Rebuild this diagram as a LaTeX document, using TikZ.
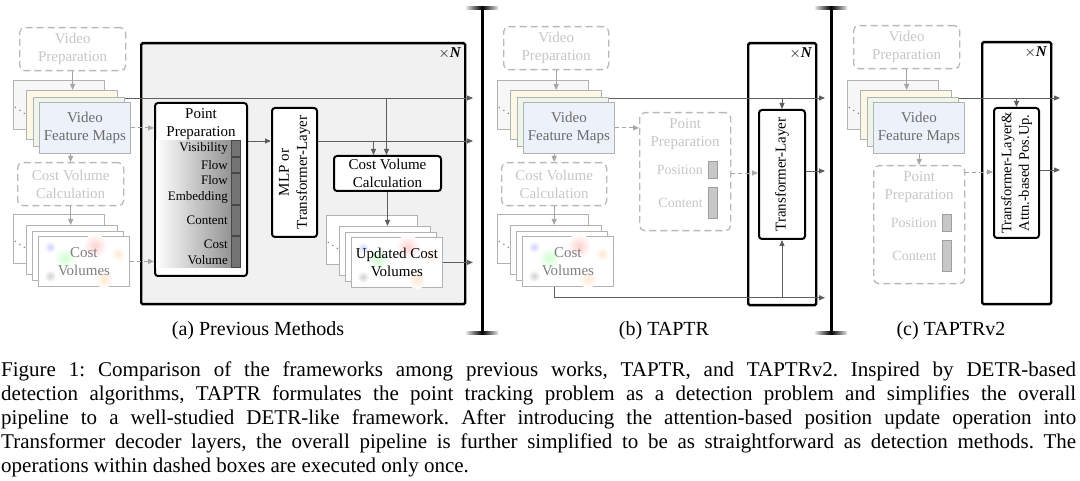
\documentclass[tikz,border=0pt]{standalone}
\usepackage{fontspec}
\setmainfont{Liberation Serif}
\usetikzlibrary{arrows.meta,positioning,calc}

\definecolor{oncegray}{HTML}{B9B9B9}
\definecolor{oncetext}{HTML}{C6C6C6}
\definecolor{wiregray}{HTML}{5E5E5E}
\definecolor{mapyellow}{HTML}{FCF7E6}
\definecolor{mapgreen}{HTML}{EEF5EA}
\definecolor{mapblue}{HTML}{EDF2FA}
\definecolor{panelgray}{HTML}{F1F1F1}

\newcommand{\blockfont}{\fontsize{15}{18}\selectfont}
\newcommand{\rowfont}{\fontsize{13}{16}\selectfont}
\newcommand{\slotfont}{\fontsize{14}{16}\selectfont}
\newcommand{\capfont}{\fontsize{20}{24}\selectfont}
\newcommand{\bodyfont}{\fontsize{21}{24}\selectfont}

% faint colour spots on a front cost-volume frame
\newcommand{\cvspots}[1]{%
  \foreach \dx/\dy/\rad/\spotc in {12/11/6/blue, 57/10/12/red, 27/22/11/green, 80/18/7/orange, 12/40/6/black, 66/43/9/orange}
    \shade[inner color=\spotc!18, outer color=white] ($(#1.north west)+(\dx,\dy)$) circle (\rad pt);
}

\begin{document}
\begin{tikzpicture}[x=1pt, y=-1pt,
    >={Triangle[length=6pt,width=5pt]},
    onceblock/.style={draw=oncegray, line width=1.3pt, dash pattern=on 7pt off 4pt, rounded corners=5pt, text=oncetext, align=center, font=\blockfont, inner sep=0pt, anchor=north west},
    layerblock/.style={draw=black, line width=2pt, rounded corners=3pt, fill=white, inner sep=0pt, anchor=north west},
    repeatbox/.style={draw=black, line width=2.4pt, rounded corners=1.5pt, inner sep=0pt, anchor=north west},
    mapframe/.style={draw=black!30, line width=0.8pt, minimum width=91pt, minimum height=49pt, inner sep=0pt, anchor=north west, fill=white},
    wire/.style={->, draw=wiregray, line width=0.9pt},
    oncewire/.style={->, draw=black!35, line width=0.9pt},
    oncedash/.style={oncewire, dash pattern=on 4pt off 3pt},
    repeatlabel/.style={font=\blockfont, anchor=north east, inner sep=0pt},
  ]
\useasboundingbox (0,0) rectangle (1080,481);

% separators between the three panels
\foreach \sx in {482,831} {
  \draw[line width=3pt] (\sx,8) -- (\sx,333);
  \foreach \sy in {8,333} {
    \shade[left color=black!10, right color=black] (\sx-16,\sy-1.6) rectangle (\sx,\sy+1.6);
    \shade[left color=black, right color=black!10] (\sx,\sy-1.6) rectangle (\sx+16,\sy+1.6);
  }
}

% repeated blocks
\node[repeatbox, fill=panelgray, minimum width=324pt, minimum height=261pt] (repA) at (140,42) {};
\node[repeatbox, fill=white, minimum width=68pt, minimum height=262pt] (repB) at (747,42) {};
\node[repeatbox, fill=white, minimum width=69pt, minimum height=262pt] (repC) at (981,41) {};
\foreach \s in {A,B,C}
  \node[repeatlabel] at ($(rep\s.north east)+(-5,5)$) {$\times$\textbf{\textit{N}}};

% video preparation (run once)
\node[onceblock, minimum width=106pt, minimum height=43pt] (vpA) at (19,27) {Video\\Preparation};
\node[onceblock, minimum width=105pt, minimum height=43pt] (vpB) at (503,26) {Video\\Preparation};
\node[onceblock, minimum width=106pt, minimum height=43pt] (vpC) at (853,25) {Video\\Preparation};

% video feature map stacks
\foreach \s/\x in {A/13, B/497, C/847} {
  \node[mapframe, fill=black!3] (vfm\s1) at (\x,80) {};
  \node[font=\rowfont, text=black!50, inner sep=0pt] at ($(vfm\s1.west)+(7,3)$) {$\ddots$};
  \node[mapframe, fill=mapyellow] (vfm\s2) at (\x+13,90) {};
  \node[mapframe, fill=mapgreen] (vfm\s3) at (\x+20,97) {};
  \node[mapframe, fill=mapblue, minimum height=51pt, text=black!58, font=\blockfont, align=center] (vfm\s4) at (\x+26,102) {Video\\Feature Maps};
}

% cost volume calculation (run once)
\node[onceblock, minimum width=106pt, minimum height=43pt] (cvprepA) at (17,162) {Cost Volume\\Calculation};
\node[onceblock, minimum width=105pt, minimum height=43pt] (cvprepB) at (501,162) {Cost Volume\\Calculation};

% cost volume stacks
\foreach \s/\x/\y in {cvA/13/214, cvB/497/214, updA/326/215} {
  \node[mapframe] (\s1) at (\x,\y) {};
  \node[font=\rowfont, text=black!50, inner sep=0pt] at ($(\s1.west)+(7,3)$) {$\ddots$};
  \node[mapframe] (\s2) at (\x+13,\y+11) {};
  \node[mapframe] (\s3) at (\x+19,\y+17) {};
  \node[mapframe, minimum height=50pt] (\s4) at (\x+25,\y+22) {};
  \cvspots{\s4}
}
\node[font=\blockfont, text=black!50, align=center] (cvAtxt) at (cvA4.center) {Cost\\Volumes};
\node[font=\blockfont, text=black!50, align=center] (cvBtxt) at (cvB4.center) {Cost\\Volumes};
\node[font=\blockfont, align=center] (updAtxt) at (updA4.center) {Updated Cost\\Volumes};

% (a) point preparation with its queries
\node[layerblock, minimum width=92pt, minimum height=173pt] (ppA) at (154,102) {};
\node[font=\blockfont, align=center, anchor=north, inner sep=0pt] (ppAtitle) at ($(ppA.north)+(0,6)$) {Point\\Preparation};
\foreach \nm/\ya/\yb/\txt in {vis/140/157/Visibility, flw/157/173/Flow, emb/173/205/{Flow\\Embedding}, cnt/205/236/Content, cst/236/268/{Cost\\Volume}} {
  \shade[left color=white, right color=black!42] (156,\ya+0.8) rectangle (231,\yb-0.8);
  \draw[fill=black!55, draw=black!72, line width=0.6pt] (231,\ya+0.4) rectangle (240,\yb-0.4);
  \node[font=\rowfont, align=right, anchor=east, inner sep=0pt] (\nm A) at (228,{(\ya+\yb)/2}) {\txt};
}

\node[layerblock, minimum width=45pt, minimum height=129pt] (mlpA) at (271,107) {};
\node[font=\blockfont, align=center, rotate=90, inner sep=0pt] at (mlpA.center) {MLP or\\Transformer-Layer};
\node[layerblock, minimum width=107pt, minimum height=35pt, font=\blockfont, align=center] (cvcA) at (333,155) {Cost Volume\\Calculation};

% (b) and (c) point preparation (run once)
\node[onceblock, minimum width=91pt, minimum height=118pt] (ppB) at (639,112) {};
\node[onceblock, minimum width=91pt, minimum height=118pt] (ppC) at (873,165) {};
\foreach \s in {B,C} {
  \node[font=\blockfont, text=oncetext, align=center, anchor=north, inner sep=0pt] (pp\s title) at ($(pp\s.north)+(0,6)$) {Point\\Preparation};
  \draw[fill=black!22, draw=black!38, line width=0.6pt] ($(pp\s.north west)+(69,49)$) rectangle ($(pp\s.north west)+(78,66)$);
  \draw[fill=black!22, draw=black!38, line width=0.6pt] ($(pp\s.north west)+(69,75)$) rectangle ($(pp\s.north west)+(78,106)$);
  \node[font=\slotfont, text=oncetext, anchor=east, inner sep=0pt] (pos\s) at ($(pp\s.north west)+(64,58)$) {Position};
  \node[font=\slotfont, text=oncetext, anchor=east, inner sep=0pt] (cnt\s) at ($(pp\s.north west)+(64,91)$) {Content};
}

% decoder layers
\node[layerblock, minimum width=46pt, minimum height=129pt] (tlB) at (758,109) {};
\node[font=\blockfont, rotate=90, inner sep=0pt] at (tlB.center) {Transformer-Layer};
\node[layerblock, minimum width=45pt, minimum height=130pt] (tlC) at (993,107) {};
\node[font=\fontsize{14.5}{17.5}\selectfont, align=center, rotate=90, inner sep=0pt] at (tlC.center) {Transformer-Layer\&\\Attn.-based Pos.Up.};

% connectors (a)
\coordinate (exitA) at (473,0);
\draw[oncewire] (vpA.south) -- (vpA.south |- vfmA2.north);
\draw[oncewire] (cvprepA.north |- vfmA4.south) -- (cvprepA.north);
\draw[oncewire] (cvprepA.south) -- (cvprepA.south |- cvA2.north);
\draw[oncedash] (vfmA4.east) -- (vfmA4.east -| ppA.west);
\draw[oncedash] (cvA4.east) -- (cvA4.east -| ppA.west);
\coordinate (vlineA) at ($(vfmA3.north east)+(0,1)$);
\draw[wire] (vlineA) -- (vlineA -| exitA);
\coordinate (ppoutA) at ($(ppA.north east)+(0,39)$);
\draw[wire] (ppoutA) -- (ppoutA -| mlpA.west);
\coordinate (mlpoutA) at ($(mlpA.north east)+(0,34)$);
\draw[wire] (mlpoutA) -- (mlpoutA -| exitA);
\coordinate (tapA1) at ($(cvcA.north)+(-14,0)$);
\coordinate (tapA2) at ($(cvcA.north)+(-1,0)$);
\draw[wire] (tapA1 |- mlpoutA) -- (tapA1);
\draw[wire] (tapA2 |- vlineA) -- (tapA2);
\draw[wire] (cvcA.south) -- (cvcA.south |- updA2.north);
\draw[wire] (updA4.east) -- (updA4.east -| exitA);

% connectors (b)
\coordinate (exitB) at (825,0);
\draw[oncewire] (vpB.south) -- (vpB.south |- vfmB2.north);
\draw[oncewire] (cvprepB.north |- vfmB4.south) -- (cvprepB.north);
\draw[oncewire] (cvprepB.south) -- (cvprepB.south |- cvB2.north);
\draw[oncedash] (vfmB4.east) -- (vfmB4.east -| ppB.west);
\coordinate (vlineB) at ($(vfmB3.north east)+(0,1)$);
\draw[wire] (vlineB) -- (vlineB -| exitB);
\draw[wire] (tlB.north |- vlineB) -- (tlB.north);
\coordinate (ppoutB) at ($(ppB.north east)+(0,61)$);
\draw[oncedash] (ppoutB) -- (ppoutB -| tlB.west);
\coordinate (tloutB) at ($(tlB.north east)+(0,62)$);
\draw[wire] (tloutB) -- (tloutB -| exitB);
\coordinate (cvlineB) at ($(cvB4.south)+(0,11)$);
\draw[wire] (cvprepB.south |- cvB4.south) |- (exitB |- cvlineB);
\draw[wire] (tlB.south |- cvlineB) -- (tlB.south);

% connectors (c)
\coordinate (exitC) at (1060,0);
\draw[oncewire] (vpC.south) -- (vpC.south |- vfmC2.north);
\draw[oncewire] (ppC.north |- vfmC4.south) -- (ppC.north);
\coordinate (vlineC) at ($(vfmC3.north east)+(0,1)$);
\draw[wire] (vlineC) -- (vlineC -| exitC);
\draw[wire] (tlC.north |- vlineC) -- (tlC.north);
\coordinate (ppoutC) at ($(ppC.north east)+(0,7)$);
\draw[oncedash] (ppoutC) -- (ppoutC -| tlC.west);
\coordinate (tloutC) at ($(tlC.north east)+(0,63)$);
\draw[wire] (tloutC) -- (tloutC -| exitC);

% panel captions
\node[font=\capfont, anchor=base] (capA) at (258,336) {(a) Previous Methods};
\node[font=\capfont, anchor=base] (capB) at (664,336) {(b) TAPTR};
\node[font=\capfont, anchor=base] (capC) at (951,336) {(c) TAPTRv2};

% figure caption
\node[font=\bodyfont, text width=1075pt, align=justify, anchor=north west, inner sep=0pt] (figcap) at (1,362) {\frenchspacing Figure 1: Comparison of the frameworks among previous works, TAPTR, and TAPTRv2. Inspired by DETR-based\linebreak detection algorithms, TAPTR formulates the point tracking problem as a detection problem and simplifies the overall\linebreak pipeline to a well-studied DETR-like framework. After introducing the attention-based position update operation into\linebreak Transformer decoder layers, the overall pipeline is further simplified to be as straightforward as detection methods. The\linebreak operations within dashed boxes are executed only once.};
\end{tikzpicture}
\end{document}
